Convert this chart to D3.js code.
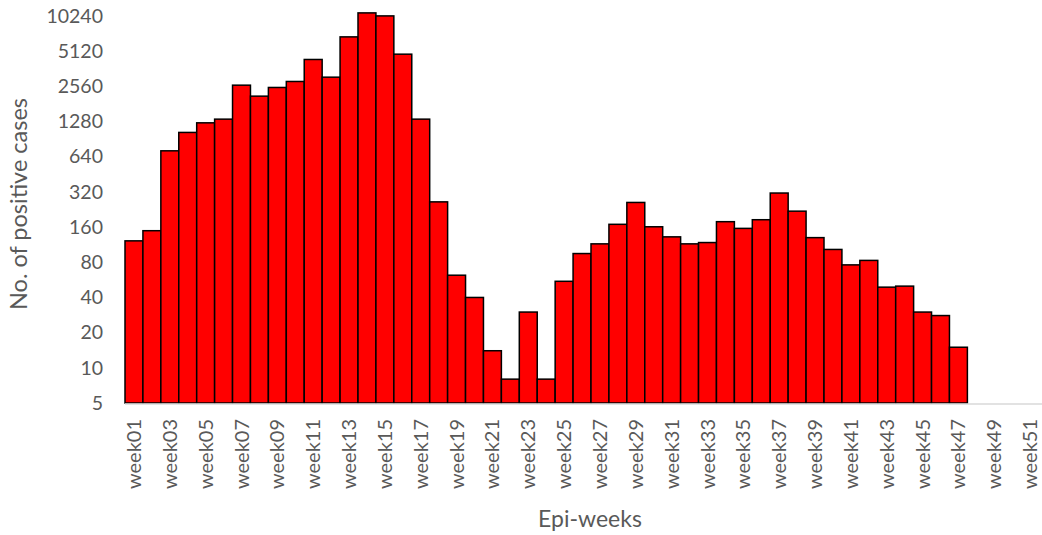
<!DOCTYPE html>
<html><head><meta charset="utf-8">
<script src="https://cdn.jsdelivr.net/npm/d3@7"></script>
<style>body{margin:0;background:#fff;overflow:hidden}text{font-family:Lato,"Open Sans",sans-serif;fill:#595959}</style>
</head><body>
<svg id="c" width="1042" height="535"></svg>
<script>
const weeks = d3.range(1, 53).map(i => "week" + String(i).padStart(2, "0"));
const cases = [122,149,719,1033,1248,1342,2621,2111,2505,2819,4348,3068,6787,10886,10260,4827,1342,263,62,40,14,8,30,8,55,95,115,169,260,161,132,115,118,178,156,185,313,219,130,103,76,83,49,50,30,28,15];
const yTicks = [5,10,20,40,80,160,320,640,1280,2560,5120,10240];

const svg = d3.select("#c");
const x = d3.scaleBand().domain(weeks).range([125, 1057]).padding(0);
const y = d3.scaleLog().base(2).domain([5, 10240]).range([403, 16]);

svg.append("g").selectAll("rect").data(cases).join("rect")
  .attr("x", (d, i) => x(weeks[i]))
  .attr("y", d => y(d))
  .attr("width", x.bandwidth())
  .attr("height", d => y(5) - y(d))
  .attr("fill", "#ff0000").attr("stroke", "#000").attr("stroke-width", 1.5);

svg.append("line").attr("x1", 125).attr("x2", 1057).attr("y1", 404).attr("y2", 404)
  .attr("stroke", "#d9d9d9").attr("stroke-width", 1.5);

const ya = svg.append("g").attr("transform", "translate(103,0)")
  .call(d3.axisLeft(y).tickValues(yTicks).tickFormat(d3.format("d")).tickSize(0).tickPadding(0));
ya.select(".domain").remove();
ya.selectAll("text").style("font-size", "19.5px").style("font-family", "Lato,'Open Sans',sans-serif").attr("fill", "#595959");

const xa = svg.append("g").attr("transform", "translate(0,404)")
  .call(d3.axisBottom(x).tickValues(weeks.filter((w, i) => i % 2 === 0)).tickSize(0).tickPadding(0));
xa.select(".domain").remove();
xa.selectAll("text").style("font-size", "20px").style("font-family", "Lato,'Open Sans',sans-serif").attr("fill", "#595959")
  .attr("transform", "rotate(-90)").attr("text-anchor", "end").attr("x", -15).attr("y", 0).attr("dy", "0.35em");

svg.append("text").attr("transform", "translate(27,204) rotate(-90)").attr("text-anchor", "middle")
  .style("font-size", "23.5px").text("No. of positive cases");
svg.append("text").attr("x", 590).attr("y", 527).attr("text-anchor", "middle")
  .style("font-size", "23px").text("Epi-weeks");
</script>
</body></html>
